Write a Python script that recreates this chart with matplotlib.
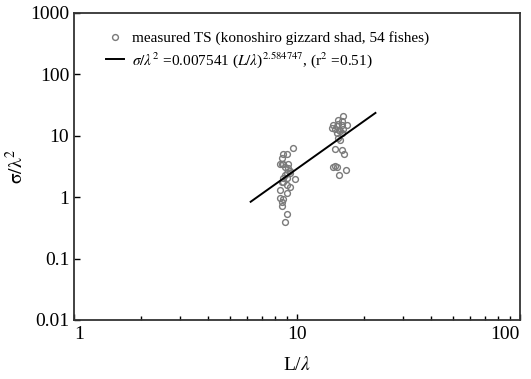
import numpy as np
import matplotlib
matplotlib.use('Agg')
import matplotlib.pyplot as plt

plt.rcParams['font.family'] = ['Liberation Serif', 'DejaVu Serif']
plt.rcParams['mathtext.fontset'] = 'stix'

# measured TS, konoshiro gizzard shad
L_small = [9.57, 8.68, 8.99, 8.54, 8.54, 8.68, 8.39, 9.14, 8.84, 9.31,
           8.99, 9.31, 8.68, 8.99, 9.80, 8.68, 8.99, 9.31, 8.39, 8.99,
           8.39, 8.68, 8.54, 8.54, 8.99, 8.84, 9.14, 8.84, 8.54]
s_small = [6.35, 5.14, 5.01, 4.27, 3.53, 3.53, 3.53, 3.53, 3.12, 2.68,
           2.49, 2.49, 2.09, 2.09, 1.96, 1.78, 1.57, 1.44, 1.33, 1.15,
           0.98, 0.93, 0.84, 0.71, 0.54, 0.40, 3.00, 2.30, 1.80]
L_large = [16.1, 15.3, 16.0, 14.5, 15.1, 15.9, 16.7, 14.3, 14.8, 15.5,
           16.1, 15.1, 15.9, 15.3, 15.6, 14.8, 15.9, 16.3, 14.8, 15.1,
           15.5, 16.6, 14.5, 15.6, 15.3]
s_large = [20.9, 17.9, 17.3, 14.9, 14.3, 14.9, 14.9, 13.6, 12.7, 12.3,
           12.7, 11.2, 10.9, 9.38, 8.7, 6.2, 5.98, 5.14, 3.24, 3.12,
           2.28, 2.82, 3.12, 12.0, 15.5]

# regression line
coef = 0.007541
expo = 2.584747
fit_range = [6.2, 22.5]

L_all = np.array(L_small + L_large)
s_all = np.array(s_small + s_large)

fig = plt.figure(figsize=(5.31, 3.79), dpi=100)
ax = fig.add_axes([0.1394, 0.1557, 0.8396, 0.81])

ax.plot(L_all, s_all, 'o', ms=4.2, mfc='none', mec='#7a7a7a', mew=1.0,
        label='measured TS (konoshiro gizzard shad, 54 fishes)')
xf = np.array(fit_range)
ax.plot(xf, coef * xf**expo, c='k', lw=1.4,
        label=r'$\sigma/\lambda^2$ =0.007541 ($L/\lambda$)$^{2.584747}$, (r$^2$ =0.51)')

ax.set_xscale('log')
ax.set_yscale('log')
ax.set_xlim(1, 100)
ax.set_ylim(0.01, 1000)

ax.set_xticks([1, 10, 100])
ax.set_xticklabels(['1', '10', '100'])
ax.get_xticklabels()[0].set_horizontalalignment('left')
ax.get_xticklabels()[-1].set_horizontalalignment('right')
ax.set_yticks([0.01, 0.1, 1, 10, 100, 1000])
ax.set_yticklabels(['0.01', '0.1', '1', '10', '100', '1000'])
ax.yaxis.set_minor_locator(matplotlib.ticker.NullLocator())
ax.tick_params(which='both', direction='in', labelsize=14, top=False, right=False)
ax.tick_params(which='major', length=4, width=1)
ax.tick_params(which='minor', length=3, width=1)
ax.tick_params(axis='x', pad=4)

for sp in ax.spines.values():
    sp.set_color('#333333')
    sp.set_linewidth(1.3)

ax.set_xlabel(r'L/$\lambda$', fontsize=14, labelpad=10)
ax.set_ylabel(r'$\mathrm{\sigma/\lambda^2}$', fontsize=14, labelpad=2)

ax.legend(loc='upper left', bbox_to_anchor=(0.04, 0.985), frameon=False,
          fontsize=11, handlelength=1.2, handletextpad=0.5, labelspacing=0.3)

plt.savefig('out.png', dpi=100)
